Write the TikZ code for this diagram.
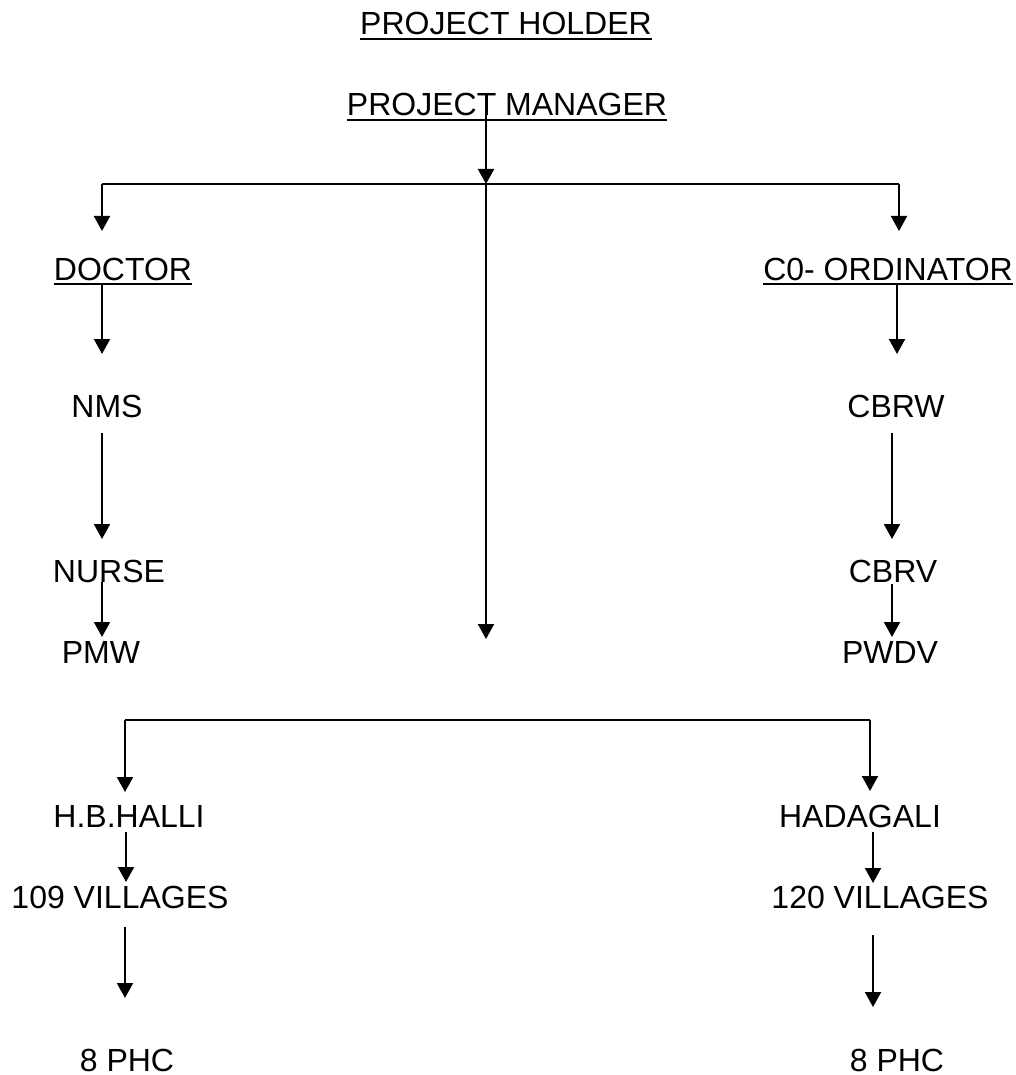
\documentclass[tikz,border=0pt]{standalone}
\usepackage{fontspec}
\setmainfont{Liberation Sans}
\usetikzlibrary{arrows.meta,calc}
\begin{document}
\begin{tikzpicture}[x=0.5pt,y=-0.5pt,
  lbl/.style={inner sep=0pt, anchor=base, font=\fontsize{16}{19}\selectfont},
  conn/.style={line width=1pt},
  uline/.style={line width=1pt},
  arr/.style={conn,-{Triangle[width=8pt,length=7.5pt]}}]
\useasboundingbox (0,0) rectangle (1016,1075);
% labels
\node[lbl] (ph)   at (506,35)   {PROJECT HOLDER};
\node[lbl] (pm)   at (507,116)  {PROJECT MANAGER};
\node[lbl] (doc)  at (123,280)  {DOCTOR};
\node[lbl] (coo)  at (888,280)  {C0- ORDINATOR};
\node[lbl] (nms)  at (107,417)  {NMS};
\node[lbl] (cbrw) at (896,417)  {CBRW};
\node[lbl] (nur)  at (109,582)  {NURSE};
\node[lbl] (cbrv) at (893,582)  {CBRV};
\node[lbl] (pmw)  at (101,663)  {PMW};
\node[lbl] (pwdv) at (890,663)  {PWDV};
\node[lbl] (hbh)  at (129,827)  {H.B.HALLI};
\node[lbl] (hdg)  at (860,827)  {HADAGALI};
\node[lbl] (vL)   at (120,908)  {109 VILLAGES};
\node[lbl] (vR)   at (880,908)  {120 VILLAGES};
\node[lbl] (phcL) at (127,1071) {8 PHC};
\node[lbl] (phcR) at (897,1071) {8 PHC};
% underlines
\foreach \n in {ph,pm,doc,coo}
  \draw[uline] ($(\n.base west)+(0,4)$) -- ($(\n.base east)+(0,4)$);
% junctions
\coordinate (jL) at (102,184);
\coordinate (jM) at (486,184);
\coordinate (jR) at (899,184);
\coordinate (pe) at (486,639);
\coordinate (bL) at (125,720);
\coordinate (bR) at (870,720);
% top distribution
\draw[arr] ($(486,0 |- pm.base)+(0,-2)$) -- (jM);
\draw[conn] (jL) -- (jR);
\draw[arr] (jL) -- ($(102,0 |- doc.base)+(0,-49)$);
\draw[arr] (jR) -- ($(899,0 |- coo.base)+(0,-49)$);
\draw[arr] (jM) -- (pe);
% left chain
\draw[arr] ($(102,0 |- doc.base)+(0,4)$) -- ($(102,0 |- nms.base)+(0,-63)$);
\draw[arr] ($(102,0 |- nms.base)+(0,16)$) -- ($(102,0 |- nur.base)+(0,-43)$);
\draw[arr] ($(102,0 |- nur.base)+(0,0)$) -- ($(102,0 |- pmw.base)+(0,-26)$);
% right chain
\draw[arr] ($(897,0 |- coo.base)+(0,4)$) -- ($(897,0 |- cbrw.base)+(0,-63)$);
\draw[arr] ($(892,0 |- cbrw.base)+(0,16)$) -- ($(892,0 |- cbrv.base)+(0,-43)$);
\draw[arr] ($(892,0 |- cbrv.base)+(0,2)$) -- ($(892,0 |- pwdv.base)+(0,-26)$);
% bottom distribution
\draw[conn] (bL) -- (bR);
\draw[arr] (bL) -- ($(125,0 |- hbh.base)+(0,-35)$);
\draw[arr] (bR) -- ($(870,0 |- hdg.base)+(0,-36)$);
\draw[arr] ($(126,0 |- hbh.base)+(0,5)$) -- ($(126,0 |- vL.base)+(0,-26)$);
\draw[arr] ($(873,0 |- hdg.base)+(0,5)$) -- ($(873,0 |- vR.base)+(0,-25)$);
\draw[arr] ($(125,0 |- vL.base)+(0,19)$) -- ($(125,0 |- phcL.base)+(0,-73)$);
\draw[arr] ($(873,0 |- vR.base)+(0,27)$) -- ($(873,0 |- phcR.base)+(0,-64)$);
\end{tikzpicture}
\end{document}
